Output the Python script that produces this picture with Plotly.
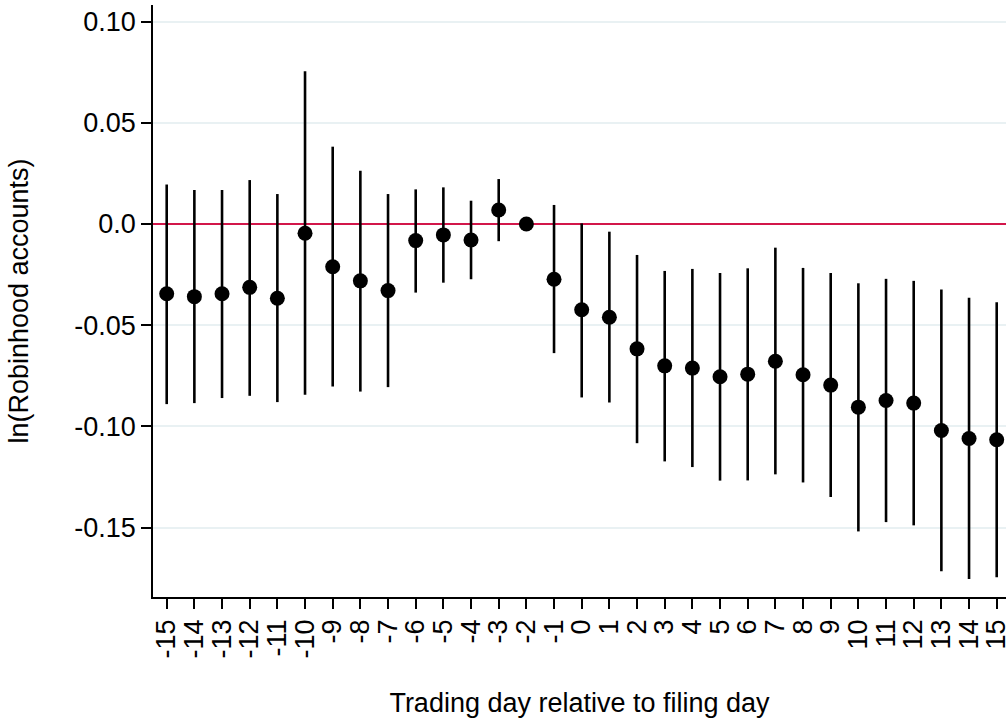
import plotly.graph_objects as go

# Event-time coefficients: trading day relative to the filing day
days = list(range(-15, 16))
coef = [-0.0345, -0.0359, -0.0345, -0.0313, -0.0367, -0.0046, -0.0211, -0.0281,
        -0.0329, -0.0082, -0.0054, -0.0079, 0.0069, 0.0, -0.0273, -0.0424,
        -0.0461, -0.0617, -0.0701, -0.0712, -0.0755, -0.0742, -0.0678, -0.0745,
        -0.0796, -0.0905, -0.0872, -0.0885, -0.1020, -0.1060, -0.1066]
ci_upper = [0.0195, 0.0168, 0.0168, 0.0217, 0.0148, 0.0755, 0.0382, 0.0263,
            0.0148, 0.0171, 0.0181, 0.0115, 0.0222, 0.0, 0.0094, 0.0003,
            -0.0038, -0.0153, -0.0232, -0.0222, -0.0242, -0.0219, -0.0117, -0.0217,
            -0.0242, -0.0293, -0.0271, -0.0281, -0.0324, -0.0364, -0.0387]
ci_lower = [-0.0890, -0.0885, -0.0860, -0.0849, -0.0880, -0.0844, -0.0803, -0.0828,
            -0.0806, -0.0339, -0.0290, -0.0273, -0.0085, 0.0, -0.0638, -0.0857,
            -0.0882, -0.1083, -0.1173, -0.1201, -0.1268, -0.1267, -0.1237, -0.1277,
            -0.1349, -0.1519, -0.1473, -0.1489, -0.1716, -0.1754, -0.1746]
y_ticks = [0.10, 0.05, 0.0, -0.05, -0.10, -0.15]
y_tick_text = ["0.10", "0.05", "0.0", "-0.05", "-0.10", "-0.15"]

err_plus = [u - c for u, c in zip(ci_upper, coef)]
err_minus = [c - l for c, l in zip(coef, ci_lower)]

FONT = "Liberation Sans, Arial, sans-serif"
FS = 27
W, H = 1006, 719

fig = go.Figure()

fig.add_trace(go.Scatter(
    x=days, y=coef,
    mode="markers",
    marker=dict(color="black", size=15),
    error_y=dict(type="data", symmetric=False, array=err_plus, arrayminus=err_minus,
                 color="black", thickness=2.6, width=0),
    showlegend=False,
    cliponaxis=False,
))

fig.update_layout(
    width=W, height=H,
    margin=dict(l=0, r=0, t=0, b=0),
    paper_bgcolor="white", plot_bgcolor="white",
    font=dict(family=FONT, size=FS, color="black"),
    xaxis=dict(
        domain=[153 / W, 1.0],
        range=[-15.495, 15.336],
        tickmode="array", tickvals=days, ticktext=[str(d) for d in days],
        tickangle=-90,
        ticks="outside", ticklen=10, tickwidth=1.5, tickcolor="black",
        showline=True, linecolor="black", linewidth=1.5,
        showgrid=False, zeroline=False,
        tickfont=dict(family=FONT, size=FS),
        ticklabeloverflow="allow",
        title=dict(text="Trading day relative to filing day",
                   font=dict(family=FONT, size=FS), standoff=36),
        automargin=False,
    ),
    yaxis=dict(
        domain=[(H - 597) / H, (H - 5) / H],
        range=[-0.1843, 0.1082],
        tickmode="array", tickvals=y_ticks, ticktext=y_tick_text,
        ticks="outside", ticklen=10, tickwidth=1.5, tickcolor="black",
        showline=True, linecolor="black", linewidth=1.5,
        showgrid=True, gridcolor="#e9f1f3", gridwidth=1.6,
        # zero reference line in red
        zeroline=True, zerolinecolor="#d2164a", zerolinewidth=2.2,
        tickfont=dict(family=FONT, size=FS),
        title=dict(text="ln(Robinhood accounts)",
                   font=dict(family=FONT, size=FS), standoff=38),
        automargin=False,
    ),
)

fig.write_html("out.html")
